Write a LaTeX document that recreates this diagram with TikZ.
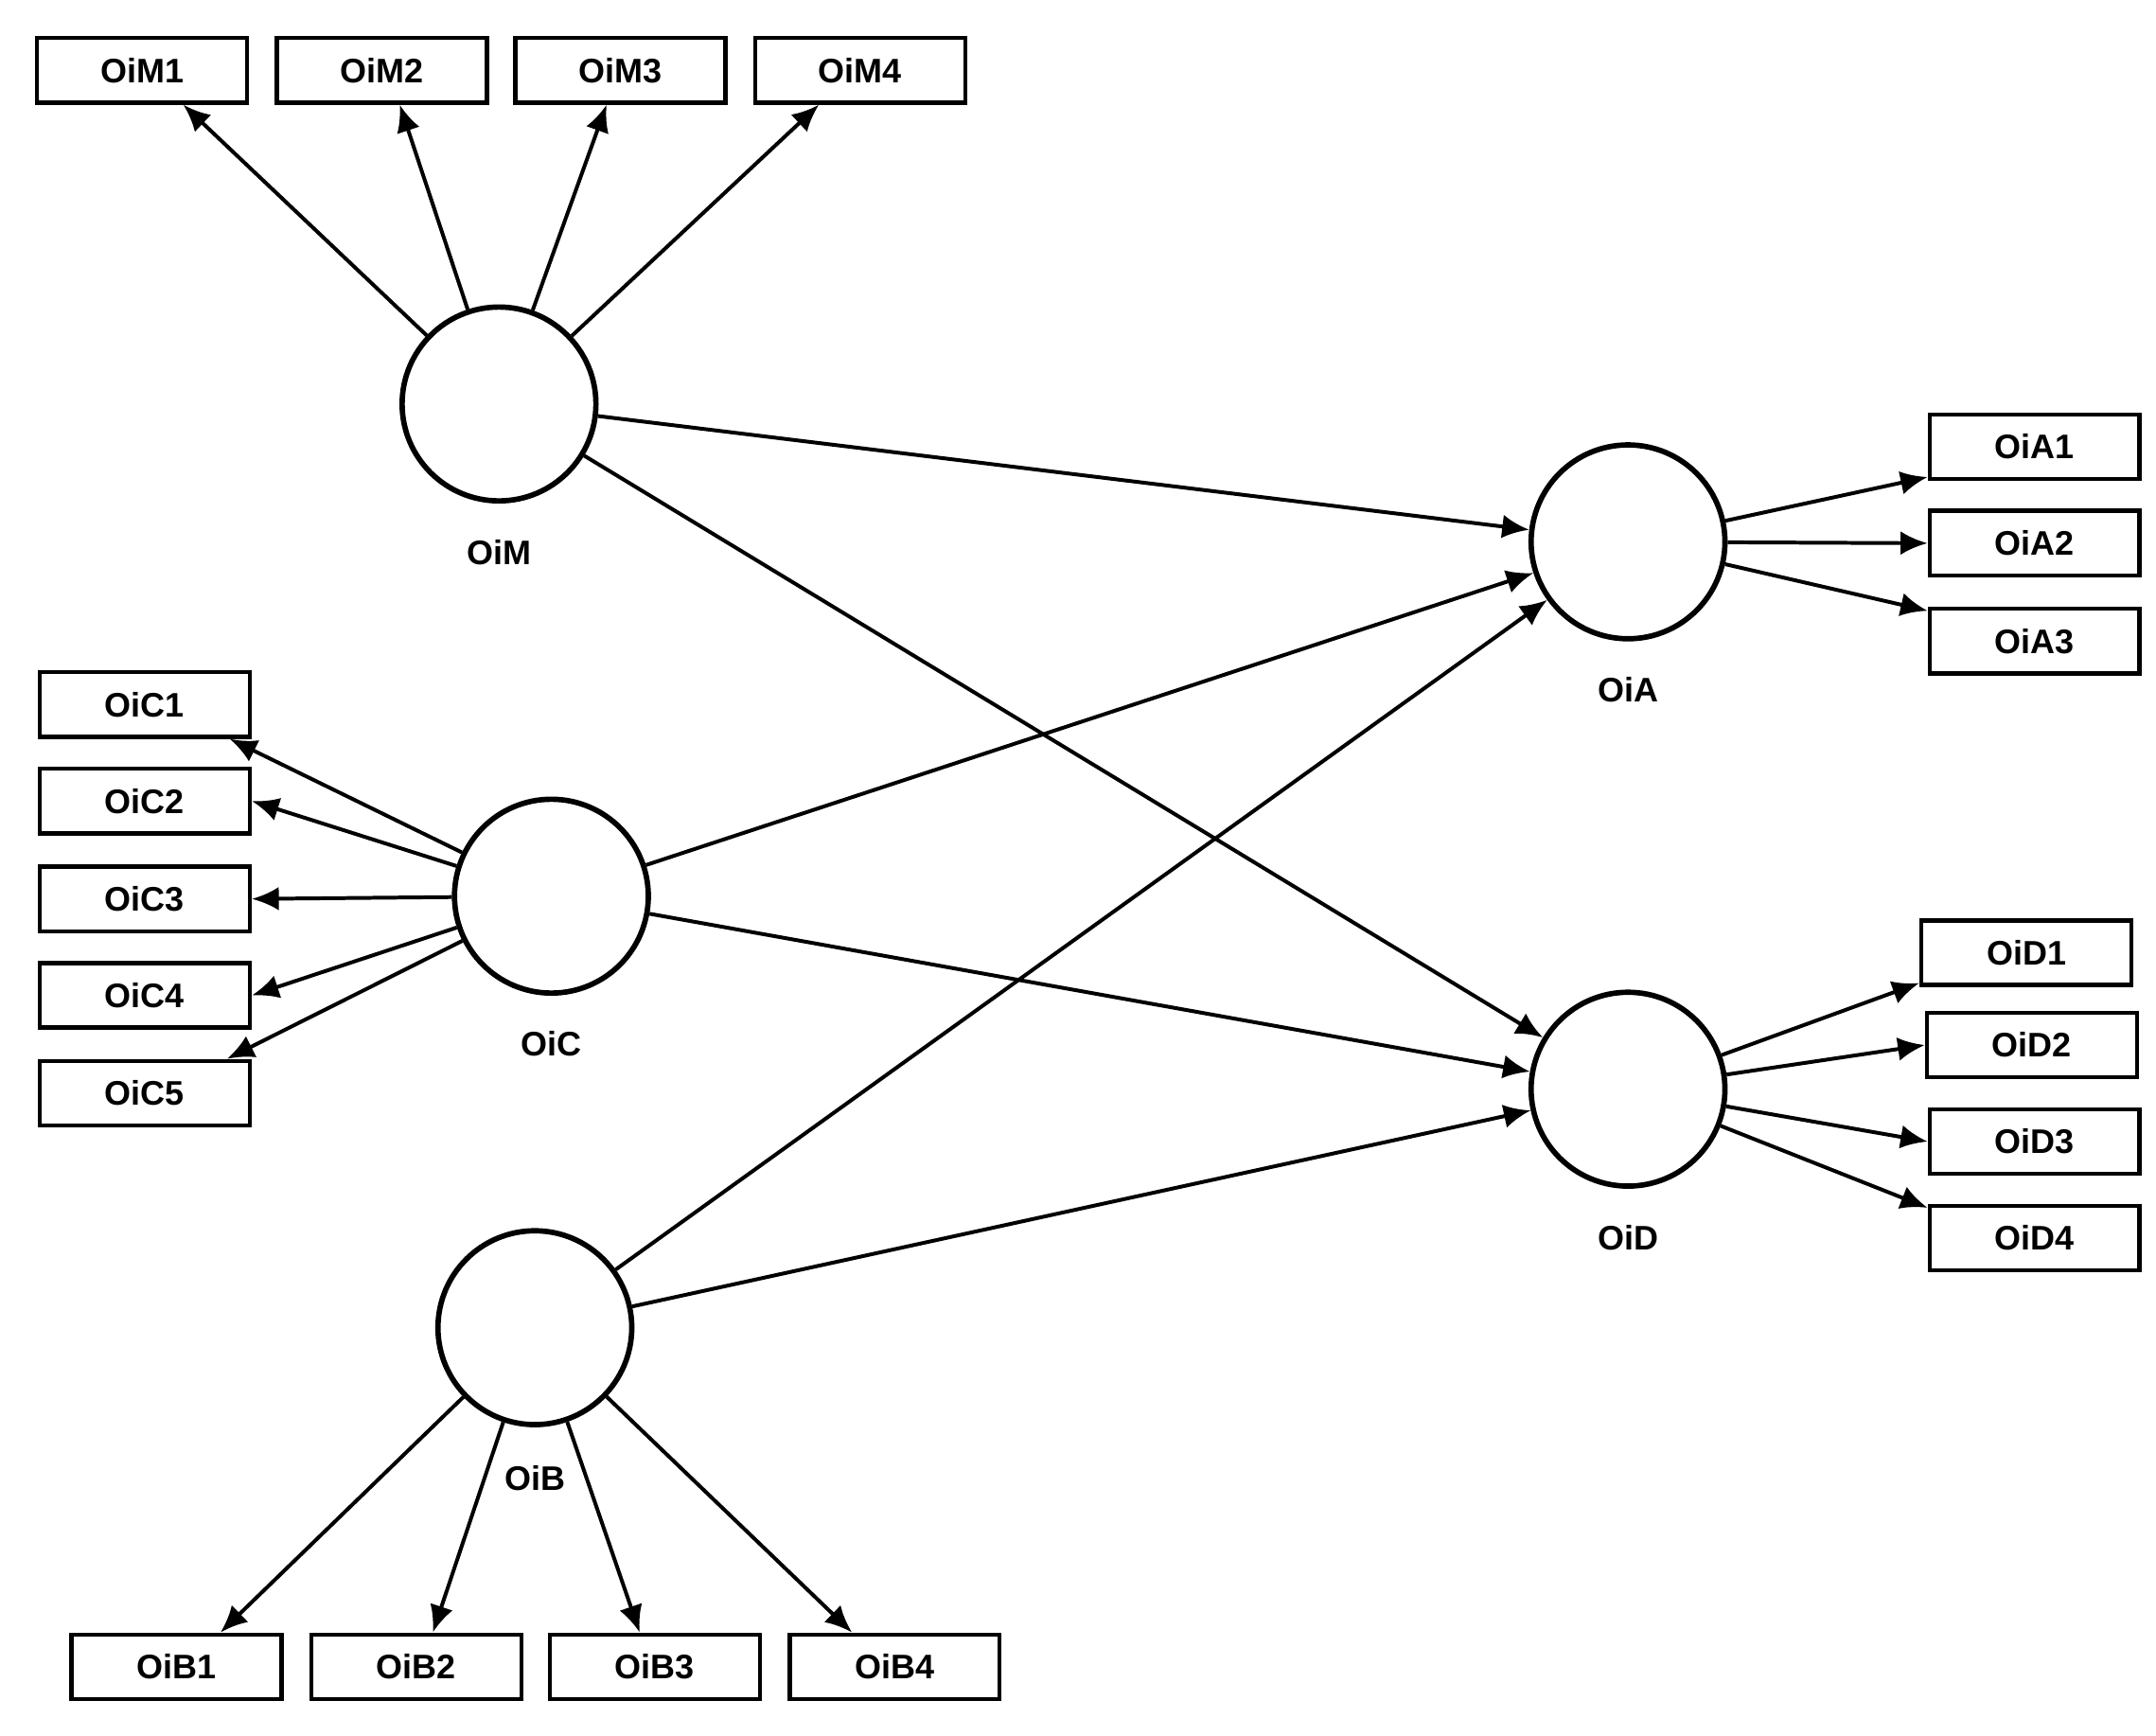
\documentclass[tikz,border=0pt]{standalone}
\usepackage{fontspec}
\setmainfont{Liberation Sans}
\usetikzlibrary{calc, arrows.meta}
\tikzset{
	ind/.style={draw, line width=0.4mm, minimum width=1.95cm, minimum height=0.6cm, inner sep=0pt, font=\bfseries\small},
	lat/.style={draw, circle, line width=0.5mm, minimum size=1.8cm, inner sep=0pt},
	lab/.style={font=\bfseries\small},
	arr/.style={line width=0.35mm, -{Latex[length=2.5mm, width=2.2mm]}}
}

\begin{document}
\begin{tikzpicture}[x=0.0128cm, y=-0.0128cm]
	\useasboundingbox (0,0) rectangle (1564,1259);
	% latent variables
	\node[lat] (OiM) at (362,293) {};
	\node[lat] (OiA) at (1181,393) {};
	\node[lat] (OiC) at (400,650) {};
	\node[lat] (OiD) at (1181,790) {};
	\node[lat] (OiB) at (388,963) {};
	\node[lab] (lOiM) at (362,401) {OiM};
	\node[lab] (lOiA) at (1181,500) {OiA};
	\node[lab] (lOiC) at (400,757) {OiC};
	\node[lab] (lOiD) at (1181,898) {OiD};
	\node[lab] (lOiB) at (388,1072) {OiB};
	
	% indicators
	\node[ind] (OiM1) at (103,51) {OiM1};
	\node[ind] (OiM2) at (277,51) {OiM2};
	\node[ind] (OiM3) at (450,51) {OiM3};
	\node[ind] (OiM4) at (624,51) {OiM4};
	\node[ind] (OiA1) at (1476,324) {OiA1};
	\node[ind] (OiA2) at (1476,394) {OiA2};
	\node[ind] (OiA3) at (1476,465) {OiA3};
	\node[ind] (OiC1) at (105,511) {OiC1};
	\node[ind] (OiC2) at (105,581) {OiC2};
	\node[ind] (OiC3) at (105,652) {OiC3};
	\node[ind] (OiC4) at (105,722) {OiC4};
	\node[ind] (OiC5) at (105,793) {OiC5};
	\node[ind] (OiD1) at (1470,691) {OiD1};
	\node[ind] (OiD2) at (1474,758) {OiD2};
	\node[ind] (OiD3) at (1476,828) {OiD3};
	\node[ind] (OiD4) at (1476,898) {OiD4};
	\node[ind] (OiB1) at (128,1209) {OiB1};
	\node[ind] (OiB2) at (302,1209) {OiB2};
	\node[ind] (OiB3) at (475,1209) {OiB3};
	\node[ind] (OiB4) at (649,1209) {OiB4};
	
	% end points on the boxes
	\coordinate (eM1) at ($(OiM1.south)+(30,0)$);
	\coordinate (eM2) at ($(OiM2.south)+(13,0)$);
	\coordinate (eM3) at ($(OiM3.south)+(-10,0)$);
	\coordinate (eM4) at ($(OiM4.south)+(-30,0)$);
	\coordinate (eB1) at ($(OiB1.north)+(32,0)$);
	\coordinate (eB2) at ($(OiB2.north)+(12,0)$);
	\coordinate (eB3) at ($(OiB3.north)+(-11,0)$);
	\coordinate (eB4) at ($(OiB4.north)+(-31,0)$);
	\coordinate (eC1) at ($(OiC1.south east)+(-16,0)$);
	\coordinate (eC5) at ($(OiC5.north east)+(-18,0)$);
	\coordinate (eA1) at ($(OiA1.south west)+(0,-3)$);
	\coordinate (eA3) at ($(OiA3.north west)+(0,3)$);
	\coordinate (eD1) at ($(OiD1.south west)+(0,-3)$);
	\coordinate (eD4) at ($(OiD4.north west)+(0,3)$);
	
	% outer model
	\foreach \i in {1,...,4} {
		\draw[arr] (OiM) -- (eM\i);
		\draw[arr] (OiB) -- (eB\i);
	}
	\draw[arr] (OiC) -- (eC1);
	\draw[arr] (OiC) -- (OiC2.east);
	\draw[arr] (OiC) -- (OiC3.east);
	\draw[arr] (OiC) -- (OiC4.east);
	\draw[arr] (OiC) -- (eC5);
	\draw[arr] (OiA) -- (eA1);
	\draw[arr] (OiA) -- (OiA2.west);
	\draw[arr] (OiA) -- (eA3);
	\draw[arr] (OiD) -- (eD1);
	\draw[arr] (OiD) -- (OiD2.west);
	\draw[arr] (OiD) -- (OiD3.west);
	\draw[arr] (OiD) -- (eD4);
	
	% inner model
	\draw[arr] (OiM) -- (OiA);
	\draw[arr] (OiM) -- (OiD);
	\draw[arr] (OiC) -- (OiA);
	\draw[arr] (OiC) -- (OiD);
	\draw[arr] (OiB) -- (OiA);
	\draw[arr] (OiB) -- (OiD);
\end{tikzpicture}
\end{document}
